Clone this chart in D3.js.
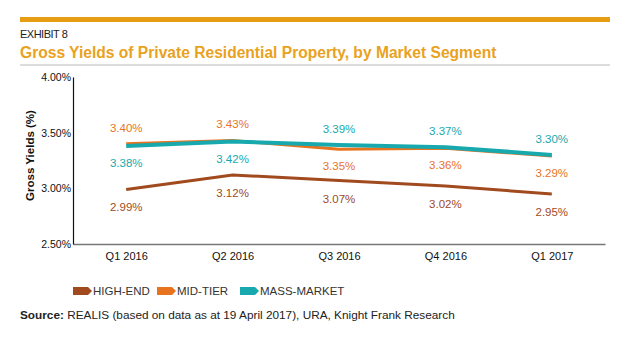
<!DOCTYPE html>
<html lang="en">

<head>
    <meta charset="utf-8">
    <script src="https://d3js.org/d3.v7.min.js"></script>
    <style>
        body {
            margin: 0;
            background: #fff;
        }

        text {
            font-family: "Liberation Sans", Arial, sans-serif;
        }
    </style>
</head>

<body>
    <div id="chart"></div>

    <script>
        // quarters on the x axis
        var quarters = ["Q1 2016", "Q2 2016", "Q3 2016", "Q4 2016", "Q1 2017"];

        // gross yields (%) per market segment
        var highEnd = [2.99, 3.12, 3.07, 3.02, 2.95];
        var midTier = [3.40, 3.43, 3.35, 3.36, 3.29];
        var massMarket = [3.38, 3.42, 3.39, 3.37, 3.30];

        var yTicks = [2.5, 3.0, 3.5, 4.0];
        var segmentNames = ["HIGH-END", "MID-TIER", "MASS-MARKET"];

        // label placement per point: 1 = above the line, -1 = below
        var midTierSide = [1, 1, -1, -1, -1];
        var massMarketSide = [-1, -1, 1, 1, 1];
        var highEndSide = [-1, -1, -1, -1, -1];

        var series = [
            { name: segmentNames[0], values: highEnd, side: highEndSide, color: "#a04a1e", width: 3 },
            { name: segmentNames[1], values: midTier, side: midTierSide, color: "#e8731f", width: 3 },
            { name: segmentNames[2], values: massMarket, side: massMarketSide, color: "#17a9ae", width: 4 }
        ];

        var W = 640, H = 342;
        var margin = { top: 77, right: 35, bottom: 98, left: 73 };
        var width = W - margin.left - margin.right,
            height = H - margin.top - margin.bottom;

        var svg = d3.select("#chart")
            .append("svg")
            .attr("width", W)
            .attr("height", H);

        // header: gold rule, exhibit number, title, grey rule
        svg.append("rect")
            .attr("x", 20).attr("y", 17)
            .attr("width", 590).attr("height", 5)
            .attr("fill", "#e79d12");

        svg.append("text")
            .attr("x", 20).attr("y", 38)
            .attr("font-size", 11)
            .attr("fill", "#222")
            .style("letter-spacing", "-0.5px")
            .text("EXHIBIT 8");

        svg.append("text")
            .attr("x", 20).attr("y", 58)
            .attr("font-size", 15.6)
            .attr("font-weight", "bold")
            .attr("fill", "#e9a21e")
            .text("Gross Yields of Private Residential Property, by Market Segment");

        svg.append("rect")
            .attr("x", 20).attr("y", 64)
            .attr("width", 590).attr("height", 2)
            .attr("fill", "#dcdcdc");

        var g = svg.append("g")
            .attr("transform", "translate(" + margin.left + "," + margin.top + ")");

        var x = d3.scalePoint()
            .domain(quarters)
            .range([0, width])
            .padding(0.5);

        var y = d3.scaleLinear()
            .domain([2.5, 4.0])
            .range([height, 0]);

        // x axis (grey line, labels only)
        var xAxis = g.append("g")
            .attr("transform", "translate(0," + height + ")")
            .call(d3.axisBottom(x).tickSize(0).tickPadding(8));
        xAxis.select(".domain").attr("stroke", "#777").attr("stroke-width", 1.5);
        xAxis.selectAll("text")
            .attr("font-family", "'Liberation Sans Narrow', 'Liberation Sans', Arial, sans-serif")
            .attr("font-size", 11)
            .attr("fill", "#111");

        // y axis
        var yAxis = g.append("g")
            .call(d3.axisLeft(y).tickValues(yTicks).tickSize(0).tickPadding(2)
                .tickFormat(function (d) { return d.toFixed(2) + "%"; }));
        yAxis.select(".domain").attr("stroke", "#111").attr("stroke-width", 1.2);
        yAxis.selectAll("text")
            .attr("font-size", 10.5)
            .attr("fill", "#111");

        svg.append("text")
            .attr("transform", "translate(34," + (margin.top + height / 2 - 5) + ") rotate(-90)")
            .attr("text-anchor", "middle")
            .attr("font-size", 11.5)
            .attr("font-weight", "bold")
            .attr("fill", "#111")
            .text("Gross Yields (%)");

        var line = d3.line()
            .x(function (d, i) { return x(quarters[i]); })
            .y(function (d) { return y(d); });

        series.forEach(function (s) {
            g.append("path")
                .datum(s.values)
                .attr("fill", "none")
                .attr("stroke", s.color)
                .attr("stroke-width", s.width)
                .attr("d", line);
        });

        // value labels
        series.forEach(function (s) {
            g.selectAll(null)
                .data(s.values)
                .enter()
                .append("text")
                .attr("x", function (d, i) { return x(quarters[i]); })
                .attr("y", function (d, i) {
                    var off = s.side[i] > 0 ? -12 : (s.name === "HIGH-END" ? 22 : 21);
                    return y(d) + off;
                })
                .attr("text-anchor", "middle")
                .attr("font-size", 11.5)
                .attr("fill", s.color)
                .text(function (d) { return d.toFixed(2) + "%"; });
        });

        // legend with arrow-shaped swatches
        var legendX = [73, 157, 240];
        var legend = svg.append("g").attr("transform", "translate(0,291)");
        series.forEach(function (s, i) {
            var lx = legendX[i];
            legend.append("path")
                .attr("d", "M" + lx + ",-4 h15 l4,4 l-4,4 h-15 z")
                .attr("fill", s.color);
            legend.append("text")
                .attr("x", lx + 20)
                .attr("y", 4)
                .attr("font-family", "'Liberation Sans Narrow', 'Liberation Sans', Arial, sans-serif")
                .attr("font-size", 11.5)
                .attr("fill", "#333")
                .text(s.name);
        });

        var source = svg.append("text")
            .attr("x", 20).attr("y", 319)
            .attr("font-size", 11.8)
            .attr("fill", "#222");
        source.append("tspan").attr("font-weight", "bold").text("Source:");
        source.append("tspan").text(" REALIS (based on data as at 19 April 2017), URA, Knight Frank Research");
    </script>
</body>

</html>
